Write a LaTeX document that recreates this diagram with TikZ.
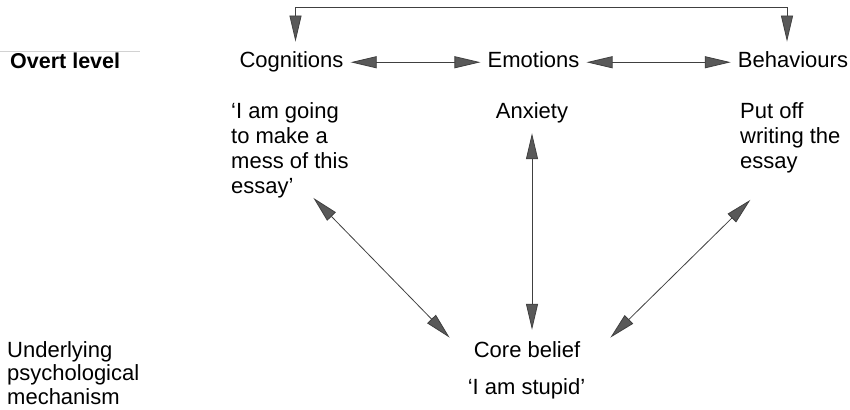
\documentclass[tikz,border=0pt]{standalone}
\usepackage{fontspec}
\setmainfont{Liberation Sans}
\usetikzlibrary{arrows.meta}

\begin{document}
\begin{tikzpicture}[x=1pt,y=-1pt]
	\tikzstyle{lbl}=[font=\fontsize{22}{25}\selectfont, inner xsep=7pt, inner ysep=3pt, text height=16.2pt, text depth=4.7pt]
	\tikzstyle{blk}=[font=\fontsize{22}{25}\selectfont, inner sep=0pt, align=left, anchor=north west]
	\tikzstyle{conn}=[draw=black!75, line width=0.8pt, {Triangle[length=26pt,width=12pt,fill=black!65]}-{Triangle[length=26pt,width=12pt,fill=black!65]}]
	\useasboundingbox (0,0) rectangle (850,409);
	\draw[gray!35, line width=0.6pt] (0,51) -- (140,51);
	\node[lbl, anchor=base west, inner xsep=0pt, font=\fontsize{21.5}{25}\selectfont\bfseries] (overt) at (10,69) {Overt level};
	\node[lbl, anchor=base] (cog) at (291.5,68) {Cognitions};
	\node[lbl, anchor=base] (emo) at (533.5,68) {Emotions};
	\node[lbl, anchor=base] (beh) at (793,68) {Behaviours};
	\node[blk] (cogtxt) at (231,102) {‘I am going\\to make a\\mess of this\\essay’};
	\node[lbl, anchor=base] (anx) at (532,118) {Anxiety};
	\node[blk] (behtxt) at (740,102) {Put off\\writing the\\essay};
	\node[lbl, anchor=base, inner xsep=24pt] (core) at (527,357) {Core belief};
	\node[lbl, anchor=base] (stupid) at (526.5,394) {‘I am stupid’};
	\node[blk, font=\fontsize{22}{23.5}\selectfont] (under) at (7,341) {Underlying\\psychological\\mechanism};
	\draw[conn] (cog.east) -- (emo.west);
	\draw[conn] (emo.east) -- (beh.west);
	\draw[conn, shorten <=7pt, shorten >=7pt] ([xshift=4pt]cog.north) -- ++(0,-41) -| ([xshift=-6pt]beh.north);
	\draw[conn, shorten <=7.3pt, shorten >=7.8pt] (anx.south) -- (anx.south |- core.north);
	\draw[conn] ([xshift=23.5pt]cogtxt.south) -- (core.north west);
	\draw[conn] ([shift={(-40pt,-27pt)}]behtxt.south) -- ([xshift=6pt]core.north east);
\end{tikzpicture}
\end{document}
